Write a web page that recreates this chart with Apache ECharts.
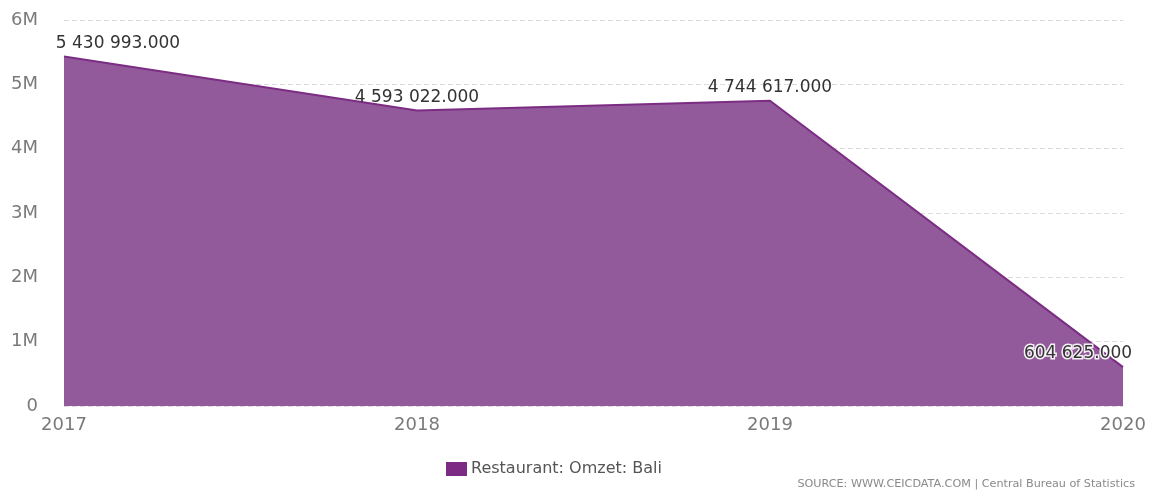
<!DOCTYPE html>
<html>
<head>
<meta charset="utf-8">
<script src="https://cdn.jsdelivr.net/npm/echarts@6/dist/echarts.min.js"></script>
<style>
  html, body { margin: 0; padding: 0; background: #fff; }
  #chart { width: 1157px; height: 493px; }
</style>
</head>
<body>
<div id="chart"></div>
<script>
// Restaurant turnover (Omzet) in Bali, yearly
const years = ['2017', '2018', '2019', '2020'];
const omzet = [5430993, 4593022, 4744617, 604625];
const yTicks = [0, 1000000, 2000000, 3000000, 4000000, 5000000, 6000000];

const seriesName = 'Restaurant: Omzet: Bali';
const sourceText = 'SOURCE: WWW.CEICDATA.COM | Central Bureau of Statistics';

const FONT = '"DejaVu Sans", "Open Sans", sans-serif';

function fmtValue(v) {
  const parts = v.toFixed(3).split('.');
  const intPart = parts[0].replace(/\B(?=(\d{3})+(?!\d))/g, ' ');
  return intPart + '.' + parts[1];
}

// per-point label nudges keep the end labels inside the plot
const labelOffsets = [[54, 1], [0, 1], [0, 0], [-45, 0]];

const seriesData = omzet.map((v, i) => {
  const item = { value: v, label: { offset: labelOffsets[i] } };
  if (i === omzet.length - 1) {
    item.label.textBorderColor = 'rgba(255,255,255,0.9)';
    item.label.textBorderWidth = 3;
  }
  return item;
});

const chart = echarts.init(document.getElementById('chart'));
chart.setOption({
  animation: false,
  backgroundColor: '#fff',
  textStyle: { fontFamily: FONT },
  grid: { left: 64, right: 34, top: 20, bottom: 87, containLabel: false },
  xAxis: {
    type: 'category',
    data: years,
    boundaryGap: false,
    axisLine: { show: false },
    axisTick: { show: false },
    axisLabel: { color: '#7a7a7a', fontSize: 18, margin: 10, fontFamily: FONT }
  },
  yAxis: {
    type: 'value',
    min: yTicks[0],
    max: yTicks[yTicks.length - 1],
    interval: 1000000,
    axisLine: { show: false },
    axisTick: { show: false },
    splitLine: { lineStyle: { color: '#dcdcdc', type: [5, 3], width: 1 } },
    axisLabel: {
      color: '#7a7a7a', fontSize: 18, margin: 26, fontFamily: FONT,
      formatter: v => v === 0 ? '0' : (v / 1000000) + 'M'
    }
  },
  legend: {
    left: 441,
    top: 456,
    itemWidth: 21,
    itemHeight: 14,
    itemGap: 10,
    icon: 'rect',
    textStyle: { color: '#555', fontSize: 16, fontFamily: FONT, padding: [0, 0, 0, -1] },
    data: [{ name: seriesName, itemStyle: { color: '#7d2a85' } }]
  },
  graphic: [{
    type: 'text',
    right: 22,
    top: 479,
    style: { text: sourceText, fill: '#8a8a8a', fontSize: 11.2, fontFamily: FONT }
  }],
  series: [{
    name: seriesName,
    type: 'line',
    data: seriesData,
    symbol: 'circle',
    symbolSize: 0.1,
    showSymbol: true,
    lineStyle: { color: '#7b2c83', width: 2 },
    itemStyle: { color: '#7d2a85' },
    areaStyle: { color: '#935a9b', opacity: 1 },
    label: {
      show: true,
      position: 'top',
      distance: 5,
      color: '#333',
      fontSize: 17,
      fontFamily: FONT,
      formatter: p => fmtValue(p.value)
    }
  }]
});
</script>
</body>
</html>
